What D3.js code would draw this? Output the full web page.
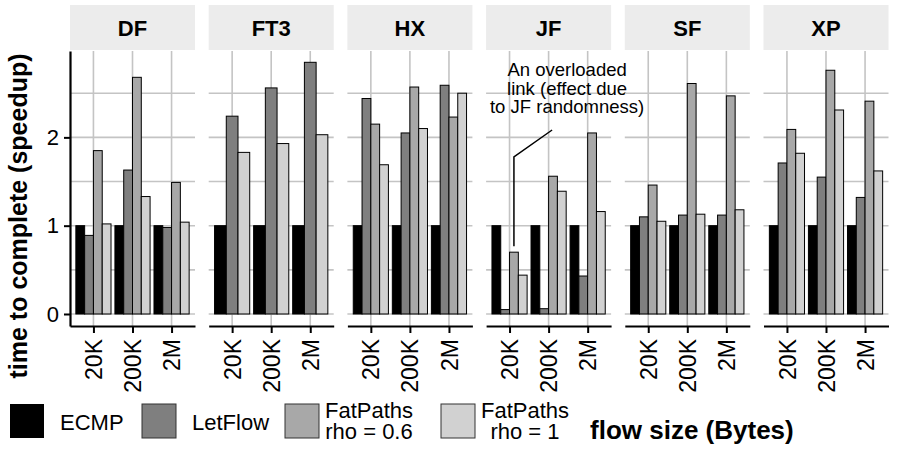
<!DOCTYPE html>
<html>
<head>
<meta charset="utf-8">
<script src="https://cdn.jsdelivr.net/npm/d3@7"></script>
<style>
  body { margin: 0; background: #fff; }
  svg { display: block; font-family: "Liberation Sans", Arial, sans-serif; }
</style>
</head>
<body>
<div id="chart"></div>
<script>
// topologies (facets), flow sizes (x categories), schemes (fill)
const topologies = ["DF", "FT3", "HX", "JF", "SF", "XP"];
const flowSizes = ["20K", "200K", "2M"];
const schemes = ["ECMP", "LetFlow", "FatPaths rho = 0.6", "FatPaths rho = 1"];
const schemeColors = ["#000000", "#7f7f7f", "#a8a8a8", "#d1d1d1"];

// values per topology, per flow size (null = not measured)
const ecmp = [[1, 1, 1], [1, 1, 1], [1, 1, 1], [1, 1, 1], [1, 1, 1], [1, 1, 1]];
const letflow = [[0.89, 1.63, 0.98], [2.24, 2.56, 2.85], [2.44, 2.05, 2.59], [0.05, 0.06, 0.43], [1.10, 1.12, 1.12], [1.71, 1.55, 1.32]];
const fatpaths06 = [[1.85, 2.68, 1.49], [null, null, null], [2.15, 2.57, 2.23], [0.70, 1.56, 2.05], [1.46, 2.61, 2.47], [2.09, 2.76, 2.41]];
const fatpaths1 = [[1.02, 1.33, 1.04], [1.83, 1.93, 2.03], [1.69, 2.10, 2.50], [0.44, 1.39, 1.16], [1.05, 1.13, 1.18], [1.82, 2.31, 1.62]];

const yTicks = [0, 1, 2];
const yGrid = [0, 0.5, 1, 1.5, 2, 2.5];
const legendLabels = [["ECMP"], ["LetFlow"], ["FatPaths", "rho = 0.6"], ["FatPaths", "rho = 1"]];
const annotationLines = ["An overloaded", "link (effect due", "to JF randomness)"];

const series = [ecmp, letflow, fatpaths06, fatpaths1];

const width = 900, height = 450;
const panelLeft = 70, panelW = 125, panelGap = 13.7;
const panelTop = 51, panelBottom = 326;

const svg = d3.select("#chart").append("svg")
    .attr("width", width)
    .attr("height", height);

const y = d3.scaleLinear().domain([-0.136, 2.978]).range([panelBottom, panelTop]);
const x = d3.scalePoint().domain(flowSizes).range([0, panelW]).padding(0.6);
const color = d3.scaleOrdinal().domain(schemes).range(schemeColors);

topologies.forEach((topo, ti) => {
    const g = svg.append("g")
        .attr("transform", "translate(" + (panelLeft + ti * (panelW + panelGap)) + ",0)");

    // strip
    g.append("rect")
        .attr("x", 0).attr("y", 5)
        .attr("width", panelW).attr("height", 45)
        .attr("fill", "#ececec");
    g.append("text")
        .attr("x", panelW / 2).attr("y", 36)
        .attr("text-anchor", "middle")
        .attr("font-size", 22).attr("font-weight", "bold")
        .text(topo);

    // grid
    g.selectAll(".hgrid").data(yGrid).enter().append("line")
        .attr("x1", 0).attr("x2", panelW)
        .attr("y1", d => y(d)).attr("y2", d => y(d))
        .attr("stroke", "#c4c4c4").attr("stroke-width", 1.6);
    g.selectAll(".vgrid").data(flowSizes).enter().append("line")
        .attr("x1", d => x(d)).attr("x2", d => x(d))
        .attr("y1", panelTop).attr("y2", panelBottom)
        .attr("stroke", "#c4c4c4").attr("stroke-width", 1.6);

    // bars: dodge only the schemes present in this facet
    const present = schemes.filter((s, si) => series[si][ti].some(v => v != null));
    const sub = d3.scaleBand().domain(present)
        .range([-0.45 * x.step(), 0.45 * x.step()]);

    flowSizes.forEach((fs, fi) => {
        const rows = present.map(s => ({ scheme: s, value: series[schemes.indexOf(s)][ti][fi] }));
        g.selectAll(".bar-" + fi).data(rows).enter().append("rect")
            .attr("x", d => x(fs) + sub(d.scheme))
            .attr("y", d => y(d.value))
            .attr("width", sub.bandwidth())
            .attr("height", d => y(0) - y(d.value))
            .attr("fill", d => color(d.scheme))
            .attr("stroke", "#000")
            .attr("stroke-width", 1);
    });

    // bottom axis
    const xAxis = g.append("g")
        .attr("transform", "translate(0," + panelBottom + ")")
        .call(d3.axisBottom(x).tickSize(7).tickSizeOuter(0));
    xAxis.select(".domain").attr("stroke", "#000").attr("stroke-width", 2.2);
    xAxis.selectAll(".tick line").attr("stroke", "#000").attr("stroke-width", 2);
    xAxis.selectAll(".tick text")
        .attr("font-size", 23)
        .attr("fill", "#000")
        .attr("font-family", "Liberation Sans, Arial, sans-serif")
        .attr("transform", "rotate(-90)")
        .attr("text-anchor", "end")
        .attr("x", -13).attr("y", 0).attr("dy", "0.35em");

    if (ti === 0) {
        const yAxis = g.append("g")
            .call(d3.axisLeft(y).tickValues(yTicks).tickSize(6).tickSizeOuter(0).tickFormat(d3.format("d")));
        yAxis.select(".domain").attr("stroke", "#000").attr("stroke-width", 2.2);
        yAxis.selectAll(".tick line").attr("stroke", "#000").attr("stroke-width", 2);
        yAxis.selectAll(".tick text")
            .attr("font-size", 22)
            .attr("fill", "#000")
            .attr("font-family", "Liberation Sans, Arial, sans-serif")
            .attr("x", -11);
    }

    if (topo === "JF") {
        // annotation for the overloaded link
        const a = g.append("g");
        a.append("text")
            .attr("x", 81).attr("y", 76)
            .attr("text-anchor", "middle")
            .attr("font-size", 18.5)
            .selectAll("tspan").data(annotationLines).enter().append("tspan")
            .attr("x", 81).attr("dy", (d, i) => i ? 18.5 : 0)
            .text(d => d);
        const px = x("20K") + sub(schemes[2]) + sub.bandwidth() / 2;
        a.append("path")
            .attr("d", d3.line()([[66, 130], [px, 157], [px, y(fatpaths06[ti][0]) - 6]]))
            .attr("fill", "none")
            .attr("stroke", "#000")
            .attr("stroke-width", 1.5);
    }
});

// axis titles
svg.append("text")
    .attr("transform", "translate(27,216) rotate(-90)")
    .attr("text-anchor", "middle")
    .attr("font-size", 25).attr("font-weight", "bold")
    .text("time to complete (speedup)");

svg.append("text")
    .attr("x", 590).attr("y", 439)
    .attr("font-size", 26).attr("font-weight", "bold")
    .text("flow size (Bytes)");

// legend
const legendBoxX = [10, 142, 285, 441];
const legend = svg.append("g");
schemes.forEach((s, i) => {
    legend.append("rect")
        .attr("x", legendBoxX[i]).attr("y", 404)
        .attr("width", 34).attr("height", 34)
        .attr("fill", color(s))
        .attr("stroke", i ? "#333" : "none")
        .attr("stroke-width", 1);
    const lines = legendLabels[i];
    const t = legend.append("text")
        .attr("font-size", 22)
        .attr("text-anchor", lines.length > 1 ? "middle" : "start");
    const tx = lines.length > 1 ? legendBoxX[i] + 34 + 50 : legendBoxX[i] + 50;
    t.selectAll("tspan").data(lines).enter().append("tspan")
        .attr("x", tx)
        .attr("y", (d, j) => lines.length > 1 ? 418 + j * 21 : 430)
        .text(d => d);
});
</script>
</body>
</html>
